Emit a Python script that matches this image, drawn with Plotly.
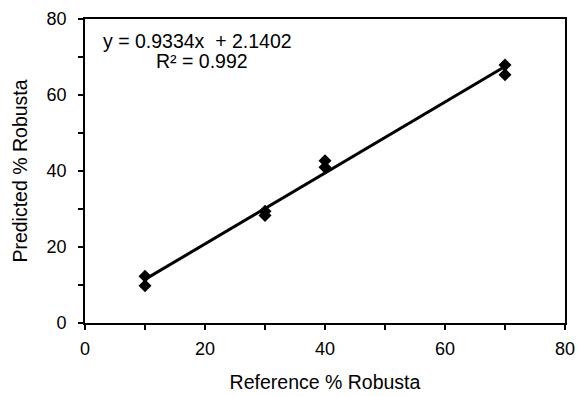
import numpy as np
import plotly.graph_objects as go

reference = [10, 10, 30, 30, 40, 40, 70, 70]
predicted = [12.3, 9.8, 29.4, 28.3, 42.7, 41.0, 67.9, 65.3]
slope = 0.9334
intercept = 2.1402
eq_text = "y = 0.9334x  + 2.1402"
r2_text = "R² = 0.992"

FONT = "Liberation Sans, Arial, sans-serif"

fit_x = np.array([min(reference), max(reference)])
fit_y = slope * fit_x + intercept

fig = go.Figure()
fig.add_trace(go.Scatter(x=fit_x, y=fit_y, mode="lines",
                         line=dict(color="black", width=3), showlegend=False))
fig.add_trace(go.Scatter(x=reference, y=predicted, mode="markers",
                         marker=dict(symbol="diamond", size=10, color="black"),
                         showlegend=False))

fig.add_annotation(x=18.8, y=74.2, text=eq_text, showarrow=False,
                   font=dict(family=FONT, size=19.5, color="black"))
fig.add_annotation(x=19.5, y=68.9, text=r2_text, showarrow=False,
                   font=dict(family=FONT, size=19.5, color="black"))

axis_common = dict(
    showgrid=False, zeroline=False, showline=True, linecolor="black", linewidth=1.7,
    mirror=True, ticks="outside", ticklen=5, tickwidth=1.5, tickcolor="black",
    dtick=20, tick0=0, automargin=False,
    minor=dict(dtick=10, ticks="outside", ticklen=5, tickwidth=1.5, tickcolor="black"),
    tickfont=dict(family=FONT, size=18, color="black"),
)

fig.update_xaxes(range=[0, 80], title=dict(text="Reference % Robusta",
                 font=dict(family=FONT, size=19.5, color="black"), standoff=17),
                 ticklabelstandoff=4, **axis_common)
fig.update_yaxes(range=[0, 80], title=dict(text="Predicted % Robusta",
                 font=dict(family=FONT, size=19.5, color="black"), standoff=14),
                 ticklabelstandoff=8, **axis_common)

fig.update_layout(
    width=577, height=396,
    margin=dict(l=85, r=12, t=19, b=73),
    plot_bgcolor="white", paper_bgcolor="white",
    font=dict(family=FONT, color="black"),
)

fig.write_html("out.html", config={"displayModeBar": False},
               post_script="document.body.style.margin='0';document.body.style.overflow='hidden';")
